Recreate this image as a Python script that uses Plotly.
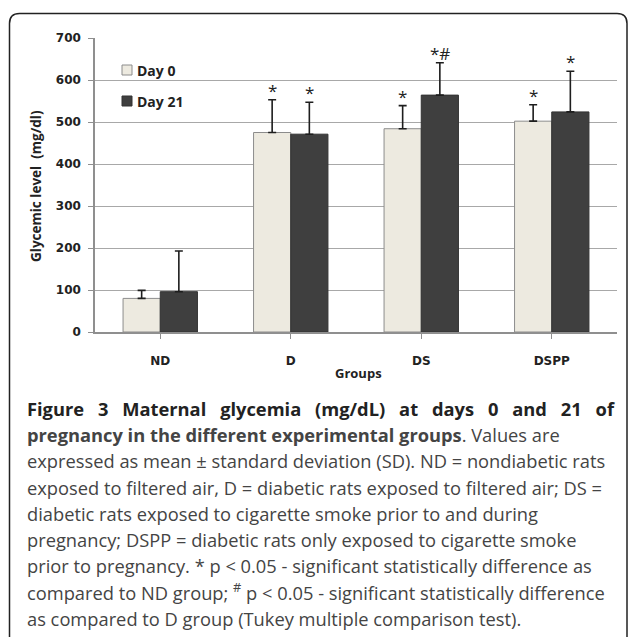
import plotly.graph_objects as go

# ---- data ----
groups = ["ND", "D", "DS", "DSPP"]
day0_mean = [80, 475, 484, 502]
day0_sd = [19, 78, 55, 39]
day21_mean = [96, 471, 564, 524]
day21_sd = [97, 76, 77, 97]
day0_marks = ["", "*", "*", "*"]
day21_marks = ["", "*", "*#", "*"]
y_ticks = [0, 100, 200, 300, 400, 500, 600, 700]
series_names = ["Day 0", "Day 21"]

W, H = 629, 637
L, R, T, B = 95, 12, 38, 305
PW, PH = W - L - R, H - T - B


def px(x):
    return (x - L) / PW


def py(y):
    return (H - B - y) / PH


DAY0 = "#EDEAE0"
DAY21 = "#3F3F3F"
DAY0_LINE = "#8C8C8C"
DAY21_LINE = "#333333"

fig = go.Figure()
fig.add_trace(go.Bar(
    x=groups, y=day0_mean, name=series_names[0], showlegend=False,
    marker=dict(color=DAY0, line=dict(color=DAY0_LINE, width=1)),
    error_y=dict(type="data", array=day0_sd, arrayminus=[0] * 4, symmetric=False,
                 color="#1E1E1E", thickness=1.6, width=4),
))
fig.add_trace(go.Bar(
    x=groups, y=day21_mean, name=series_names[1], showlegend=False,
    marker=dict(color=DAY21, line=dict(color=DAY21_LINE, width=1)),
    error_y=dict(type="data", array=day21_sd, arrayminus=[0] * 4, symmetric=False,
                 color="#1E1E1E", thickness=1.6, width=4),
))

annotations = []
# significance marks
for i, g in enumerate(groups):
    for off, mean, sd, mk in ((-0.5, day0_mean, day0_sd, day0_marks),
                              (0.5, day21_mean, day21_sd, day21_marks)):
        if mk[i]:
            annotations.append(dict(
                x=i, y=mean[i] + sd[i], xref="x", yref="y", text=mk[i],
                showarrow=False, xanchor="center", yanchor="bottom",
                xshift=off * 37, yshift=-4,
                font=dict(family="Open Sans", size=17, color="#222222")))

annotations.append(dict(x=px(358), y=py(373), xref="paper", yref="paper",
                        text="Groups", showarrow=False, xanchor="center",
                        yanchor="middle",
                        font=dict(family="Open Sans", size=13, color="#222222",
                                  weight="bold")))
annotations.append(dict(x=px(36), y=py(186), xref="paper", yref="paper",
                        text="Glycemic level  (mg/dl)", showarrow=False,
                        textangle=-90, xanchor="center", yanchor="middle",
                        font=dict(family="Open Sans", size=13.5, color="#222222",
                                  weight="bold")))

# legend (drawn as keys + labels)
shapes = []
leg_rows = [(70, DAY0, DAY0_LINE), (101, DAY21, DAY21_LINE)]
for (cy, fill, edge), name in zip(leg_rows, series_names):
    shapes.append(dict(type="rect", xref="paper", yref="paper",
                       x0=px(122), x1=px(132), y0=py(cy - 5), y1=py(cy + 5),
                       fillcolor=fill, line=dict(color=edge, width=1)))
    annotations.append(dict(x=px(135), y=py(cy), xref="paper", yref="paper",
                            text=name, showarrow=False, xanchor="left",
                            yanchor="middle",
                            font=dict(family="Open Sans", size=14,
                                      color="#222222", weight="bold")))

SP = " \u2002"
line1 = SP.join("Figure 3 Maternal glycemia (mg/dL) at days 0 and 21 of".split(" "))
caption = [
    "<b>" + line1 + "</b>",
    "<b>pregnancy in the different experimental groups</b>. Values are",
    "expressed as mean ± standard deviation (SD). ND = nondiabetic rats",
    "exposed to filtered air, D = diabetic rats exposed to filtered air; DS =",
    "diabetic rats exposed to cigarette smoke prior to and during",
    "pregnancy; DSPP = diabetic rats only exposed to cigarette smoke",
    "prior to pregnancy. * p &lt; 0.05 - significant statistically difference as",
    "compared to ND group; <sup>#</sup> p &lt; 0.05 - significant statistically difference",
    "as compared to D group (Tukey multiple comparison test).",
]
for i, line in enumerate(caption):
    annotations.append(dict(
        x=px(25), y=py(408.5 + 26.2 * i), xref="paper", yref="paper",
        text=line, showarrow=False, xanchor="left", yanchor="middle",
        font=dict(family="Open Sans", size=18.3,
                  color="#222222" if i == 0 else "#444444")))

# rounded border of figure panel
x0, y0, x1, yb, r = 9.5, 13.5, 627, 660, 10
path = (f"M {px(x0)},{py(yb)} L {px(x0)},{py(y0 + r)} "
        f"Q {px(x0)},{py(y0)} {px(x0 + r)},{py(y0)} "
        f"L {px(x1 - r)},{py(y0)} Q {px(x1)},{py(y0)} {px(x1)},{py(y0 + r)} "
        f"L {px(x1)},{py(yb)}")
shapes.append(dict(type="path", xref="paper", yref="paper", path=path,
                   line=dict(color="#222222", width=1.5)))

tick_font = dict(family="DejaVu Sans", size=12, color="#222222", weight="bold")
fig.update_layout(
    width=W, height=H,
    margin=dict(l=L, r=R, t=T, b=B, pad=0),
    paper_bgcolor="white", plot_bgcolor="white",
    barmode="group", bargap=0.43, bargroupgap=0,
    font=dict(family="Open Sans", color="#222222"),
    showlegend=False,
    annotations=annotations,
    shapes=shapes,
    xaxis=dict(showline=True, linecolor="#8F8F8F", linewidth=1.5,
               ticks="outside", ticklen=5, tickcolor="#8F8F8F",
               tickfont=tick_font, ticklabelstandoff=12, showgrid=False),
    yaxis=dict(range=[0, 700], tickvals=y_ticks, showline=True,
               linecolor="#8F8F8F", linewidth=1.5, ticks="outside",
               ticklen=5, tickcolor="#8F8F8F", showgrid=True,
               gridcolor="#A8A8A8", gridwidth=1, zeroline=False,
               tickfont=tick_font, ticklabelstandoff=5),
)

fig.write_html("out.html",
               config={"displayModeBar": False},
               post_script="document.body.style.margin='0';"
                           "document.body.style.overflow='hidden';")
